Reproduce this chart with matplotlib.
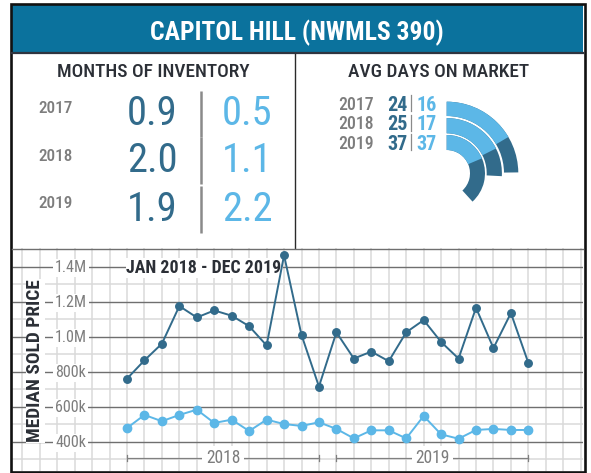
import os
import matplotlib
matplotlib.use("Agg")
import matplotlib.pyplot as plt
import matplotlib.transforms as mtransforms
from matplotlib import font_manager as fm
from matplotlib.font_manager import FontProperties
from matplotlib.patches import Rectangle, Wedge
import numpy as np

# ---------------- data ----------------
title_text = "CAPITOL HILL (NWMLS 390)"

inv_title = "MONTHS OF INVENTORY"
inv_years = ["2017", "2018", "2019"]
inv_dark = [0.9, 2.0, 1.9]
inv_light = [0.5, 1.1, 2.2]

dom_title = "AVG DAYS ON MARKET"
dom_years = ["2017", "2018", "2019"]
dom_dark = [24, 25, 37]
dom_light = [16, 17, 37]
# arc lengths (days) as drawn in the gauge graphic
arc_dark = [24, 25, 37]
arc_light = [16, 17, 18]

chart_title = "JAN 2018 - DEC 2019"
y_label = "MEDIAN SOLD PRICE"
months = ["Jan 2018", "Feb 2018", "Mar 2018", "Apr 2018", "May 2018", "Jun 2018",
          "Jul 2018", "Aug 2018", "Sep 2018", "Oct 2018", "Nov 2018", "Dec 2018",
          "Jan 2019", "Feb 2019", "Mar 2019", "Apr 2019", "May 2019", "Jun 2019",
          "Jul 2019", "Aug 2019", "Sep 2019", "Oct 2019", "Nov 2019", "Dec 2019"]
price_dark = [760000, 865000, 960000, 1175000, 1110000, 1150000, 1120000, 1060000,
              950000, 1465000, 1010000, 715000, 1025000, 875000, 915000, 860000,
              1025000, 1095000, 970000, 875000, 1165000, 935000, 1135000, 850000]
price_light = [478000, 553000, 517000, 553000, 583000, 507000, 526000, 461000,
               526000, 501000, 490000, 511000, 473000, 419000, 465000, 465000,
               419000, 547000, 442000, 417000, 467000, 473000, 467000, 467000]
ytick_values = [400000, 600000, 800000, 1000000, 1200000, 1400000]
ytick_labels = ["400k", "600k", "800k", "1.0M", "1.2M", "1.4M"]
year_groups = ["2018", "2019"]

# ---------------- colours ----------------
BANNER = "#0b729d"
DARK = "#326b8b"
LIGHT = "#5cb7e7"
GRAYTXT = "#7d7d7d"
HEADTXT = "#2b2f36"

# ---------------- fonts ----------------
files = {}
for f in fm.fontManager.ttflist:
    files.setdefault(os.path.basename(f.fname).lower(), f.fname)

cands = [
    ("notosans-extracondensed.ttf", "notosans-extracondensedmedium.ttf", "notosans-extracondensedbold.ttf"),
    ("notosans-condensed.ttf", "notosans-condensedmedium.ttf", "notosans-condensedbold.ttf"),
    ("robotocondensed-regular.ttf", "robotocondensed-medium.ttf", "robotocondensed-bold.ttf"),
    ("liberationsansnarrow-regular.ttf", None, "liberationsansnarrow-bold.ttf"),
    ("dejavusanscondensed.ttf", None, "dejavusanscondensed-bold.ttf"),
]
FONTS = None
for reg, med, bold in cands:
    if reg in files and bold in files:
        FONTS = {"regular": FontProperties(fname=files[reg]),
                 "medium": FontProperties(fname=files[med]) if med in files else FontProperties(fname=files[reg]),
                 "bold": FontProperties(fname=files[bold])}
        break
if FONTS is None:
    FONTS = {"regular": FontProperties(family="Liberation Sans", weight="normal"),
             "medium": FontProperties(family="Liberation Sans", weight="normal"),
             "bold": FontProperties(family="Liberation Sans", weight="bold")}


def mkfp(weight, size):
    p = FONTS[weight].copy()
    p.set_size(size)
    return p


W, H = 591, 473
fig = plt.figure(figsize=(W / 100, H / 100), dpi=100)
fig.patch.set_facecolor("white")
R = fig.canvas.get_renderer()


def text_w(s, weight, size):
    t = fig.text(0, 0, s, fontproperties=mkfp(weight, size))
    w = t.get_window_extent(renderer=R).width
    t.remove()
    return w


def fit(s, weight, max_size, target, slack=1.08):
    w = text_w(s, weight, max_size)
    return max_size * min(1.0, target * slack / w)


def put(axis, x, cy, s, weight, size, color, ha="center", transform=None,
        bbox=None, zorder=5):
    cap = size * 100 / 72 * 0.72
    if transform is None:
        transform = axis.transData
    tr = transform + mtransforms.ScaledTranslation(0, -cap / 2 / fig.dpi, fig.dpi_scale_trans)
    return axis.text(x, cy, s, fontproperties=mkfp(weight, size), color=color,
                     ha=ha, va="baseline", transform=tr, bbox=bbox, zorder=zorder)


# background axes in pixel coordinates (y down)
bg = fig.add_axes([0, 0, 1, 1], zorder=0)
bg.set_xlim(0, W)
bg.set_ylim(H, 0)
bg.axis("off")

# chart axes
CX0, CX1, CY0, CY1 = 12, 583, 248.3, 471
ax = fig.add_axes([CX0 / W, (H - CY1) / H, (CX1 - CX0) / W, (CY1 - CY0) / H], zorder=1)
ax.axis("off")

ov = fig.add_axes([0, 0, 1, 1], zorder=2)
ov.set_xlim(0, W)
ov.set_ylim(H, 0)
ov.axis("off")
ov.patch.set_visible(False)

# ---------------- banner ----------------
bg.add_patch(Rectangle((12, 5), 571, 47.5, facecolor=BANNER, edgecolor="none"))
s = fit(title_text, "bold", 19, 272)
put(bg, 297, 30.5, title_text, "bold", s, "white")

# ---------------- months of inventory ----------------
hs = min(fit(inv_title, "medium", 15, 180), fit(dom_title, "medium", 15, 168))
put(bg, 153, 70.5, inv_title, "medium", hs, HEADTXT)
put(bg, 439, 70.5, dom_title, "medium", hs, HEADTXT)

inv_row_y = [110.5, 157, 206]
inv_year_y = [107, 154.7, 202]
ys = fit("2017", "medium", 13, 32)
bs = fit("0.9", "regular", 32, 47)
for i in range(len(inv_years)):
    put(bg, 56, inv_year_y[i], inv_years[i], "medium", ys, GRAYTXT)
    put(bg, 177.5, inv_row_y[i], f"{inv_dark[i]:.1f}", "regular", bs, DARK, ha="right")
    put(bg, 247.5, inv_row_y[i], f"{inv_light[i]:.1f}", "regular", bs, LIGHT)
    bg.plot([200.7, 200.7], [inv_row_y[i] - 19.5, inv_row_y[i] + 27], color="#8a8a8a",
            lw=1.8, solid_capstyle="butt")

# ---------------- avg days on market ----------------
dom_row_y = [103.3, 122.7, 142.3]
dys = fit("2017", "medium", 15, 33)
dns = fit("24", "bold", 15, 19)
for i in range(len(dom_years)):
    put(bg, 356.5, dom_row_y[i], dom_years[i], "medium", dys, GRAYTXT)
    put(bg, 397, dom_row_y[i], str(dom_dark[i]), "bold", dns, DARK)
    bg.plot([411, 411], [dom_row_y[i] - 8, dom_row_y[i] + 8], color="#8a8a8a", lw=0.9)
    put(bg, 416.5, dom_row_y[i], str(dom_light[i]), "bold", dns, LIGHT, ha="left")

# gauge arcs
GC = (446.7, 173.3)
ring_r = [(71.6, 57.3), (55.2, 40.0), (38.3, 23.3)]
DEG_PER_DAY = 3.72
for i in range(len(arc_dark)):
    ro, ri = ring_r[i]
    bg.add_patch(Wedge(GC, ro, -90, arc_dark[i] * DEG_PER_DAY - 90, width=ro - ri,
                       facecolor=DARK, edgecolor="none"))
    bg.add_patch(Wedge(GC, ro, -90, arc_light[i] * DEG_PER_DAY - 90, width=ro - ri,
                       facecolor=LIGHT, edgecolor="none"))

# ---------------- line chart ----------------
x = np.arange(len(months))
X0 = (CX0 - 127) / 17.45
X1 = (CX1 - 127) / 17.45
Y0 = 400000 - (CY1 - 441.7) / 35 * 200000
Y1 = 400000 + (441.7 - CY0) / 35 * 200000
ax.set_xlim(X0, X1)
ax.set_ylim(Y0, Y1)

ax.vlines(np.arange(-6, 27), Y0, Y1, colors="#dadada", lw=1.1, zorder=0.5)
ax.hlines(np.arange(300000, 1400001, 200000), X0, X1, colors="#dadada", lw=1.1, zorder=0.5)
ax.hlines(ytick_values, X0, X1, colors="#6f6f6f", lw=1.0, zorder=0.6)

ax.plot(x, price_dark, color=DARK, lw=1.4, marker="o", ms=5.4, zorder=4)
ax.plot(x, price_light, color=LIGHT, lw=1.4, marker="o", ms=6.0, zorder=4)

t_px_data = mtransforms.blended_transform_factory(bg.transData, ax.transData)
t_data_px = mtransforms.blended_transform_factory(ax.transData, bg.transData)
wbox = dict(facecolor="white", edgecolor="none", boxstyle="square,pad=0.12")

ts = fit("800k", "regular", 11.5, 35)
for v, lab in zip(ytick_values, ytick_labels):
    put(ax, 55, v, lab, "regular", ts, GRAYTXT, ha="left", transform=t_px_data,
        bbox=wbox, zorder=2)

cs = fit(chart_title, "bold", 15, 155, slack=1.0)
put(ax, 126.5, 266.7, chart_title, "bold", cs, HEADTXT, ha="left",
    transform=bg.transData, bbox=dict(facecolor="white", edgecolor="none",
                                      boxstyle="square,pad=0.05"), zorder=2)

# y label (rotated)
ls = fit(y_label, "bold", 16.5, 154, slack=1.05)
lcap = ls * 100 / 72 * 0.72
ax.text(33.5 + lcap / 2, 361, y_label, fontproperties=mkfp("bold", ls), color=HEADTXT,
        rotation=90, rotation_mode="anchor", ha="center", va="baseline",
        transform=bg.transData, zorder=2,
        bbox=dict(facecolor="white", edgecolor="none", boxstyle="square,pad=0.03"))

# year brackets
gs = fit("2018", "regular", 13, 32)
for gi, lab in enumerate(year_groups):
    idx = [k for k, m in enumerate(months) if m.endswith(lab)]
    a, b = idx[0], idx[-1]
    ax.plot([a, b], [458, 458], color="#808080", lw=0.9, transform=t_data_px, zorder=2)
    for e in (a, b):
        ax.plot([e, e], [455.3, 461], color="#808080", lw=0.9, transform=t_data_px, zorder=2)
    put(ax, (a + b) / 2, 457, lab, "regular", gs, GRAYTXT, transform=t_data_px,
        bbox=dict(facecolor="white", edgecolor="none", boxstyle="square,pad=0.2"), zorder=3)

# ---------------- frame lines ----------------
ov.plot([12, 583], [53.2, 53.2], color="#2f3540", lw=1.6)
ov.plot([295, 295], [54, 248.3], color="#2a2a2a", lw=1.0)
ov.plot([12, 583], [248.5, 248.5], color="#6f6f6f", lw=1.0)
ov.add_patch(Rectangle((11, 4.3), 573.5, 467.5, fill=False, edgecolor="#111111", lw=1.9))

fig.savefig("out.png", dpi=100, facecolor="white")
